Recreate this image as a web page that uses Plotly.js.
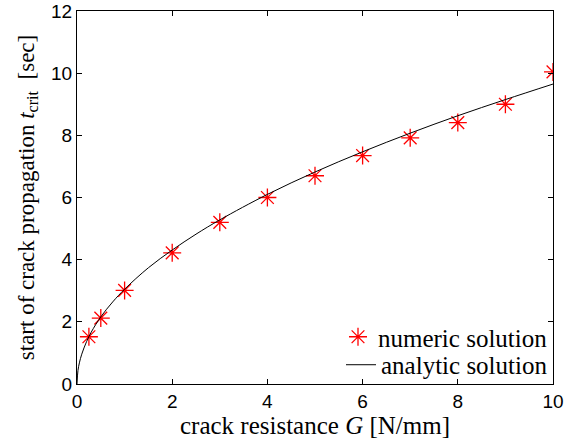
<!DOCTYPE html>
<html>
<head>
<meta charset="utf-8">
<script src="https://cdn.plot.ly/plotly-3.0.1.min.js"></script>
<style>html,body{margin:0;padding:0;background:#fff;}#chart{width:567px;height:440px;}</style>
</head>
<body>
<div id="chart"></div>
<script>
// numeric solution (markers)
const numericG = [0.25, 0.5, 1, 2, 3, 4, 5, 6, 7, 8, 9, 10];
const numericT = [1.52, 2.12, 3.01, 4.22, 5.2, 6.0, 6.7, 7.35, 7.92, 8.41, 9.0, 10.04];
// analytic solution (curve)
const analyticG = [0, 0.02, 0.05, 0.1, 0.2, 0.3, 0.5, 0.75, 1, 1.5, 2, 2.5, 3, 4, 5, 6, 7, 8, 9, 10];
const analyticT = [0, 0.43, 0.68, 0.96, 1.36, 1.67, 2.16, 2.64, 3.05, 3.74, 4.31, 4.82, 5.28, 6.10, 6.82, 7.47, 8.07, 8.63, 9.15, 9.65];
const xTicks = [0, 2, 4, 6, 8, 10];
const yTicks = [0, 2, 4, 6, 8, 10, 12];

const serif = 'Liberation Serif, Times New Roman, serif';
const sans = 'Liberation Sans, Arial, sans-serif';

const traces = [
  {x: numericG, y: numericT, mode: 'markers', name: 'numeric solution', legend: 'legend',
   marker: {symbol: 'asterisk-open', size: 15, color: '#ff0000', line: {color: '#ff0000', width: 1.3}}},
  {x: analyticG, y: analyticT, mode: 'lines', name: 'analytic solution', legend: 'legend2',
   line: {color: '#000', width: 1, shape: 'spline'}}
];

const axisCommon = {
  showline: true, mirror: 'ticks', linecolor: '#000', linewidth: 1,
  ticks: 'inside', ticklen: 5, tickcolor: '#000', showgrid: false, zeroline: false,
  tickfont: {family: sans, size: 19, color: '#000'}
};

const legendCommon = {x: 1, xanchor: 'right', yanchor: 'middle', bgcolor: 'rgba(255,255,255,0)',
  font: {family: serif, size: 25, color: '#000'}, itemwidth: 30};

const layout = {
  width: 567, height: 440,
  margin: {l: 77, r: 14, t: 11, b: 56},
  paper_bgcolor: '#fff', plot_bgcolor: '#fff',
  showlegend: true,
  legend: Object.assign({}, legendCommon, {y: 0.126}),
  legend2: Object.assign({}, legendCommon, {y: 0.051}),
  xaxis: Object.assign({}, axisCommon, {
    range: [0, 10], tickvals: xTicks, ticktext: xTicks.map(String),
    title: {text: 'crack resistance <i>G</i> [N/mm]', font: {family: serif, size: 25, color: '#000'}, standoff: 0}
  }),
  yaxis: Object.assign({}, axisCommon, {
    range: [0, 12], tickvals: yTicks, ticktext: yTicks.map(String),
    title: {text: 'start of crack propagation <i>t</i><sub>crit</sub>  [sec]', font: {family: serif, size: 23, color: '#000'}, standoff: 10}
  })
};

Plotly.newPlot('chart', traces, layout, {displayModeBar: false, staticPlot: true});
</script>
</body>
</html>
